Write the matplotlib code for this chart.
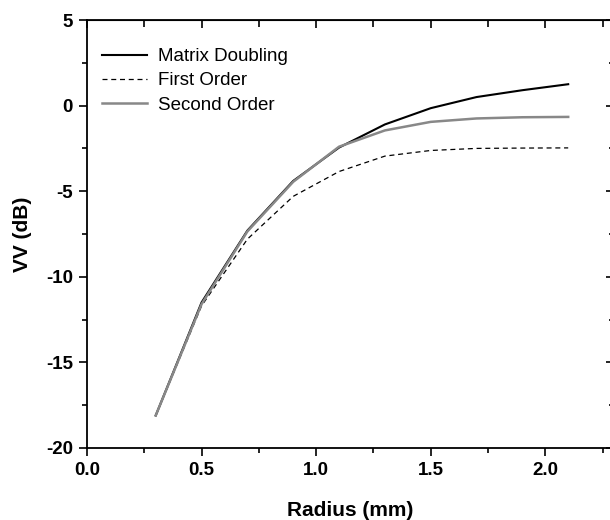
import matplotlib.pyplot as plt
from matplotlib.ticker import MultipleLocator

plt.rcParams["font.family"] = ["Liberation Sans", "DejaVu Sans"]
plt.rcParams["axes.unicode_minus"] = False

# Datos
radius = [0.3, 0.5, 0.7, 0.9, 1.1, 1.3, 1.5, 1.7, 1.9, 2.1]
matrix_doubling = [-18.1, -11.5, -7.3, -4.4, -2.45, -1.1, -0.15, 0.5, 0.9, 1.25]
first_order = [-18.1, -11.7, -7.8, -5.3, -3.85, -2.95, -2.62, -2.5, -2.48, -2.47]
second_order = [-18.1, -11.6, -7.35, -4.45, -2.4, -1.45, -0.95, -0.75, -0.68, -0.66]

fig = plt.figure(figsize=(6.1, 5.2), dpi=100)
ax = fig.add_axes([0.1426, 0.1385, 0.864, 0.823])

ax.plot(radius, matrix_doubling, color="black", lw=1.5, label="Matrix Doubling")
ax.plot(radius, first_order, color="black", lw=0.9, ls=(0, (4, 3)), label="First Order")
ax.plot(radius, second_order, color="#888888", lw=1.8, label="Second Order")

ax.set_xlim(0, 2.3)
ax.set_ylim(-20, 5)
ax.xaxis.set_major_locator(MultipleLocator(0.5))
ax.xaxis.set_minor_locator(MultipleLocator(0.25))
ax.yaxis.set_major_locator(MultipleLocator(5))
ax.yaxis.set_minor_locator(MultipleLocator(2.5))

for s in ax.spines.values():
    s.set_linewidth(1.3)

ax.tick_params(which="both", direction="out", width=1.2, labelsize=13.5, pad=4)
ax.tick_params(which="major", length=6)
ax.tick_params(which="minor", length=3.5)
for lab in ax.get_xticklabels() + ax.get_yticklabels():
    lab.set_fontweight("bold")

# Ejes espejo arriba y a la derecha, ticks hacia dentro
top = ax.secondary_xaxis("top")
top.xaxis.set_major_locator(MultipleLocator(0.5))
top.xaxis.set_minor_locator(MultipleLocator(0.25))
top.tick_params(which="both", direction="in", width=1.2, labeltop=False)
top.tick_params(which="major", length=6)
top.tick_params(which="minor", length=5)
right = ax.secondary_yaxis("right")
right.yaxis.set_major_locator(MultipleLocator(5))
right.yaxis.set_minor_locator(MultipleLocator(2.5))
right.tick_params(which="both", direction="in", width=1.2, labelright=False)
right.tick_params(which="major", length=6)
right.tick_params(which="minor", length=3.5)

ax.set_xlabel("Radius (mm)", fontsize=15, fontweight="bold", labelpad=16)
ax.set_ylabel("VV (dB)", fontsize=15, fontweight="bold", labelpad=10)

ax.legend(loc="upper left", frameon=False, fontsize=13.5,
          handlelength=2.4, handletextpad=0.6, labelspacing=0.38,
          bbox_to_anchor=(-0.004, 0.974))

fig.savefig("out.png", dpi=100)
